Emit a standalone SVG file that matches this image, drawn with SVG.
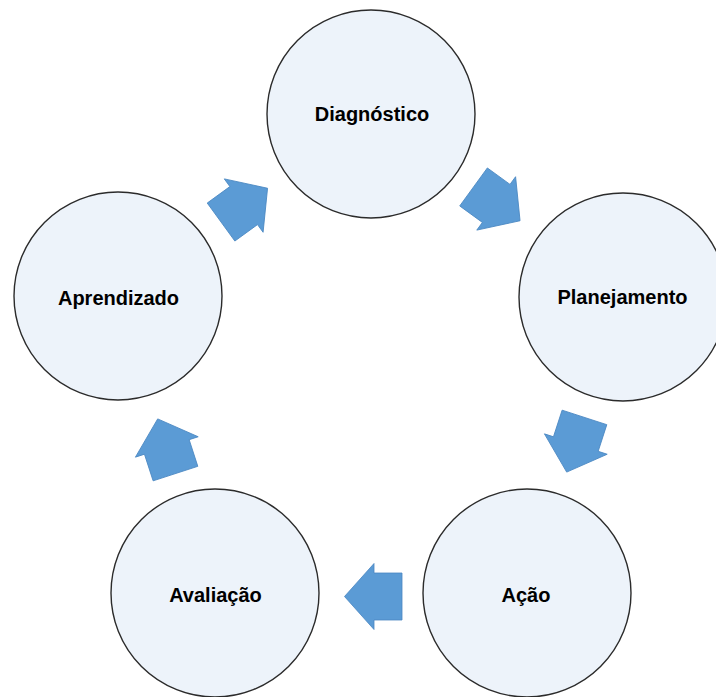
<svg xmlns="http://www.w3.org/2000/svg" width="716" height="697" viewBox="0 0 716 697">
<style>
.node{fill:#EDF3FA;stroke:#2b2b2b;stroke-width:1.4}
.lbl{font-family:"Liberation Sans",Arial,sans-serif;font-weight:bold;font-size:20px;fill:#000;text-anchor:middle}
.arr{fill:#5B9BD5;stroke:#4A87C2;stroke-width:0.8;stroke-linejoin:miter}
</style>
<defs>
<path id="blk" d="M-29,-23.5 L-1,-23.5 L-1,-33 L28.5,0 L-1,33 L-1,23.5 L-29,23.5 Z"/>
</defs>
<rect width="716" height="697" fill="#fff"/>
<g id="connectors">
<use href="#blk" class="arr" transform="translate(244.5,205) rotate(-36)"/>
<use href="#blk" class="arr" transform="translate(497,204) rotate(36)"/>
<use href="#blk" class="arr" transform="translate(575.5,445) rotate(108)"/>
<use href="#blk" class="arr" transform="translate(373,596.5) rotate(180)"/>
<use href="#blk" class="arr" transform="translate(166.5,446) rotate(-108)"/>
</g>
<g id="diagnostico"><circle class="node" cx="371" cy="114" r="104"/><text class="lbl" x="372" y="120.5">Diagnóstico</text></g>
<g id="planejamento"><circle class="node" cx="623" cy="297" r="104"/><text class="lbl" x="622.5" y="304">Planejamento</text></g>
<g id="acao"><circle class="node" cx="527" cy="593" r="104"/><text class="lbl" x="526" y="601.5">Ação</text></g>
<g id="avaliacao"><circle class="node" cx="215" cy="593" r="104"/><text class="lbl" x="215.5" y="601.5">Avaliação</text></g>
<g id="aprendizado"><circle class="node" cx="118" cy="296" r="104"/><text class="lbl" x="118.5" y="305">Aprendizado</text></g>
</svg>
